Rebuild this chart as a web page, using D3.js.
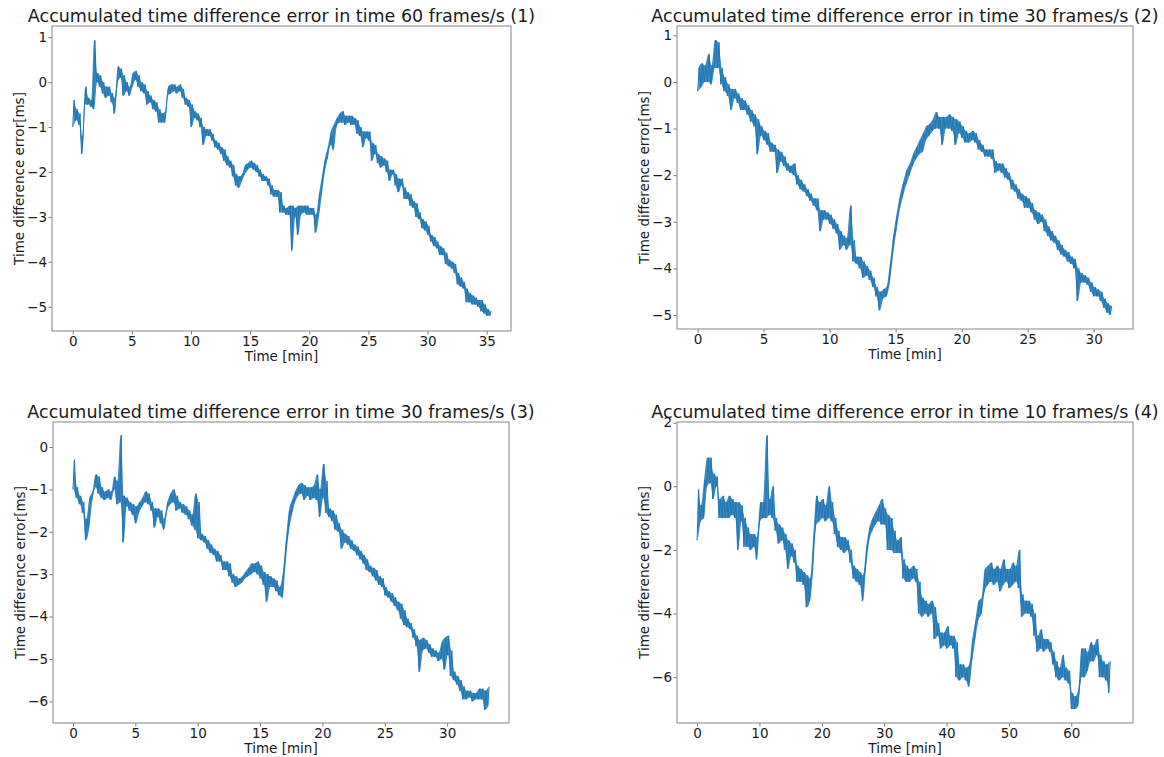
<!DOCTYPE html>
<meta charset="utf-8">
<style>
body{margin:0;background:#fff;}
text{font-family:"DejaVu Sans",sans-serif;fill:#1a1a1a;}
.title{font-size:17.5px;text-anchor:middle;}
.tick text{font-size:13.5px;fill:#1a1a1a;}
.tick line{stroke:#777;}
.domain{display:none;}
.axlabel{font-size:13.5px;text-anchor:middle;}
.frame{fill:none;stroke:#9a9a9a;stroke-width:1.2;}
.band{fill:#1f77b4;fill-opacity:0.85;stroke:none;}
.trace{fill:none;stroke:#1f77b4;stroke-width:1;stroke-linejoin:round;}
</style>
<body>
<script src="https://d3js.org/d3.v7.min.js"></script>
<script>

var titles = ["Accumulated time difference error in time 60 frames/s (1)",
              "Accumulated time difference error in time 30 frames/s (2)",
              "Accumulated time difference error in time 30 frames/s (3)",
              "Accumulated time difference error in time 10 frames/s (4)"];
var xLabel = "Time [min]";
var yLabel = "Time difference error[ms]";

// sampling step [min] of each record; each entry is [low, high] of the noise band in that step
var steps = [0.25, 0.25, 0.25, 0.5];

var err60 = [[-1.0,-0.4],[-0.85,-0.6],[-0.95,-0.7],[-1.6,-1.2],[-0.5,-0.1],[-0.5,-0.35],[-0.55,-0.4],[-0.6,0.93],
 [0.0,0.2],[-0.1,0.15],[-0.25,0.0],[-0.35,-0.1],[-0.3,-0.1],[-0.45,-0.25],[-0.7,-0.35],[0.0,0.35],
 [0.1,0.3],[-0.3,0.15],[-0.2,0.0],[-0.3,-0.1],[-0.1,0.2],[0.05,0.25],[-0.1,0.15],[-0.2,0.0],
 [-0.25,-0.05],[-0.5,-0.2],[-0.45,-0.3],[-0.6,-0.4],[-0.65,-0.45],[-0.9,-0.6],[-0.9,-0.7],[-0.9,-0.65],
 [-0.3,-0.1],[-0.25,-0.05],[-0.2,-0.05],[-0.25,-0.1],[-0.2,-0.05],[-0.35,-0.15],[-0.5,-0.35],[-0.55,-0.4],
 [-1.0,-0.5],[-0.8,-0.65],[-0.85,-0.7],[-1.0,-0.8],[-1.4,-1.0],[-1.2,-1.05],[-1.2,-1.05],[-1.3,-1.15],
 [-1.45,-1.3],[-1.5,-1.35],[-1.6,-1.45],[-1.75,-1.5],[-1.85,-1.65],[-1.9,-1.75],[-2.1,-1.85],[-2.3,-2.05],
 [-2.35,-2.1],[-2.2,-2.05],[-2.05,-1.85],[-1.95,-1.8],[-1.9,-1.75],[-1.95,-1.8],[-2.0,-1.85],[-2.1,-1.95],
 [-2.2,-2.05],[-2.2,-2.1],[-2.3,-2.15],[-2.5,-2.3],[-2.55,-2.4],[-2.55,-2.4],[-2.9,-2.45],[-2.9,-2.75],
 [-2.95,-2.8],[-2.95,-2.75],[-3.75,-2.75],[-3.0,-2.8],[-3.4,-2.75],[-2.95,-2.75],[-2.9,-2.75],[-2.95,-2.75],
 [-2.95,-2.8],[-2.95,-2.8],[-3.35,-2.95],[-3.0,-2.5],[-2.5,-2.1],[-2.0,-1.7],[-1.7,-1.45],[-1.4,-1.1],
 [-1.5,-0.95],[-1.0,-0.8],[-0.9,-0.7],[-0.9,-0.65],[-0.95,-0.75],[-0.9,-0.75],[-0.95,-0.75],[-0.95,-0.8],
 [-1.15,-0.85],[-1.2,-1.0],[-1.45,-1.1],[-1.25,-1.1],[-1.3,-1.1],[-1.75,-1.35],[-1.6,-1.4],[-1.8,-1.6],
 [-1.9,-1.65],[-1.85,-1.7],[-2.0,-1.75],[-2.2,-1.95],[-2.05,-1.95],[-2.3,-2.05],[-2.45,-2.15],[-2.3,-2.15],
 [-2.6,-2.35],[-2.6,-2.45],[-2.75,-2.5],[-2.8,-2.65],[-3.0,-2.7],[-3.05,-2.9],[-3.25,-3.05],[-3.3,-3.1],
 [-3.4,-3.2],[-3.55,-3.4],[-3.65,-3.45],[-3.7,-3.55],[-3.85,-3.65],[-3.85,-3.7],[-4.05,-3.8],[-4.1,-3.95],
 [-4.15,-4.0],[-4.25,-4.05],[-4.5,-4.25],[-4.55,-4.35],[-4.6,-4.45],[-4.9,-4.6],[-4.9,-4.7],[-4.95,-4.75],
 [-4.95,-4.8],[-5.0,-4.85],[-5.1,-4.85],[-5.15,-4.95],[-5.2,-5.05],[-5.2,-5.1]];

var err30a = [[-0.2,0.3],[-0.1,0.4],[0.0,0.35],[0.0,0.6],[-0.05,0.35],[0.3,0.9],[0.3,0.85],[-0.05,0.3],
 [-0.2,0.1],[-0.3,-0.05],[-0.6,-0.15],[-0.35,-0.15],[-0.45,-0.25],[-0.6,-0.35],[-0.6,-0.4],[-0.7,-0.5],
 [-0.85,-0.6],[-0.95,-0.7],[-1.55,-0.8],[-1.15,-0.95],[-1.25,-1.05],[-1.35,-1.1],[-1.5,-1.3],[-1.5,-1.35],
 [-1.95,-1.45],[-1.7,-1.5],[-1.8,-1.6],[-1.9,-1.75],[-1.95,-1.8],[-2.0,-1.75],[-2.2,-2.0],[-2.3,-2.1],
 [-2.35,-2.2],[-2.45,-2.3],[-2.55,-2.4],[-2.65,-2.5],[-2.75,-2.5],[-3.2,-2.75],[-2.95,-2.75],[-2.95,-2.8],
 [-3.05,-2.85],[-3.15,-2.95],[-3.25,-3.05],[-3.6,-3.2],[-3.5,-3.3],[-3.6,-3.35],[-3.5,-2.65],[-3.85,-3.4],
 [-3.9,-3.75],[-4.0,-3.75],[-4.2,-3.85],[-4.15,-3.95],[-4.25,-4.05],[-4.4,-4.2],[-4.6,-4.4],[-4.9,-4.5],
 [-4.65,-4.45],[-4.6,-4.4],[-4.3,-3.9],[-3.7,-3.3],[-3.2,-2.85],[-2.75,-2.45],[-2.45,-2.15],[-2.2,-1.9],
 [-2.0,-1.75],[-1.8,-1.55],[-1.65,-1.4],[-1.55,-1.25],[-1.5,-1.1],[-1.25,-0.95],[-1.15,-0.9],[-1.05,-0.8],
 [-1.0,-0.65],[-1.0,-0.75],[-1.35,-0.75],[-1.0,-0.75],[-1.0,-0.7],[-1.05,-0.75],[-1.35,-0.8],[-1.1,-0.85],
 [-1.2,-0.95],[-1.3,-1.05],[-1.3,-1.1],[-1.25,-1.05],[-1.3,-1.1],[-1.45,-1.25],[-1.5,-1.35],[-1.6,-1.45],
 [-1.6,-1.45],[-1.65,-1.45],[-1.95,-1.7],[-1.9,-1.75],[-1.95,-1.75],[-2.05,-1.85],[-2.1,-1.95],[-2.3,-2.1],
 [-2.35,-2.2],[-2.5,-2.3],[-2.55,-2.4],[-2.7,-2.45],[-2.7,-2.5],[-2.8,-2.6],[-2.95,-2.75],[-3.05,-2.8],
 [-3.0,-2.85],[-3.2,-2.95],[-3.3,-3.1],[-3.4,-3.2],[-3.45,-3.3],[-3.6,-3.4],[-3.7,-3.5],[-3.75,-3.6],
 [-3.85,-3.65],[-3.9,-3.75],[-4.0,-3.8],[-4.7,-4.0],[-4.3,-4.1],[-4.3,-4.15],[-4.35,-4.2],[-4.5,-4.3],
 [-4.6,-4.4],[-4.6,-4.45],[-4.7,-4.5],[-4.85,-4.65],[-4.95,-4.75],[-5.0,-4.8]];

var err30b = [[-1.0,-0.3],[-1.2,-0.95],[-1.35,-1.15],[-1.55,-1.3],[-2.2,-1.7],[-1.9,-1.2],[-1.25,-1.05],[-0.95,-0.65],
 [-1.1,-0.7],[-1.2,-0.95],[-1.25,-1.05],[-1.2,-1.0],[-1.25,-1.05],[-1.0,-0.7],[-1.35,-0.8],[-1.3,0.28],
 [-2.25,-1.15],[-1.4,-1.2],[-1.5,-1.3],[-1.6,-1.35],[-1.8,-1.4],[-1.55,-1.3],[-1.4,-1.2],[-1.3,-1.05],
 [-1.35,-1.1],[-1.5,-1.3],[-1.9,-1.45],[-1.65,-1.45],[-1.8,-1.5],[-1.95,-1.7],[-1.5,-1.3],[-1.35,-1.1],
 [-1.3,-1.0],[-1.5,-1.15],[-1.45,-1.3],[-1.55,-1.35],[-1.6,-1.4],[-1.7,-1.5],[-1.85,-1.6],[-1.95,-1.1],
 [-2.15,-1.3],[-2.2,-2.05],[-2.25,-2.1],[-2.4,-2.2],[-2.5,-2.3],[-2.55,-2.4],[-2.7,-2.45],[-2.7,-2.55],
 [-2.9,-2.7],[-2.9,-2.7],[-3.05,-2.75],[-3.2,-3.0],[-3.3,-3.05],[-3.25,-3.1],[-3.2,-3.05],[-3.1,-2.95],
 [-3.05,-2.85],[-3.0,-2.75],[-2.95,-2.75],[-3.0,-2.7],[-3.1,-2.8],[-3.25,-2.95],[-3.65,-3.0],[-3.3,-3.05],
 [-3.3,-3.1],[-3.4,-3.15],[-3.5,-3.3],[-3.55,-3.0],[-2.7,-2.2],[-2.0,-1.5],[-1.6,-1.25],[-1.3,-1.05],
 [-1.15,-0.9],[-1.1,-0.85],[-1.25,-0.9],[-1.15,-0.95],[-1.25,-0.95],[-1.2,-0.9],[-1.25,-0.65],[-1.65,-1.0],
 [-1.2,-0.4],[-1.55,-0.8],[-1.65,-1.45],[-1.75,-1.5],[-1.95,-1.6],[-2.0,-1.8],[-2.4,-1.95],[-2.25,-2.05],
 [-2.3,-2.1],[-2.4,-2.2],[-2.45,-2.3],[-2.55,-2.35],[-2.65,-2.45],[-2.75,-2.55],[-2.9,-2.65],[-2.95,-2.8],
 [-3.05,-2.85],[-3.15,-2.9],[-3.25,-3.05],[-3.3,-3.1],[-3.5,-3.3],[-3.55,-3.4],[-3.65,-3.45],[-3.75,-3.55],
 [-3.85,-3.65],[-4.05,-3.7],[-4.2,-3.85],[-4.25,-4.05],[-4.3,-4.15],[-4.5,-4.3],[-4.7,-4.45],[-5.3,-4.55],
 [-4.8,-4.5],[-4.75,-4.55],[-4.85,-4.65],[-4.95,-4.75],[-4.95,-4.8],[-5.05,-4.85],[-5.0,-4.6],[-5.25,-4.5],
 [-4.9,-4.45],[-5.4,-4.8],[-5.5,-5.3],[-5.6,-5.4],[-5.75,-5.5],[-5.95,-5.65],[-5.95,-5.75],[-5.9,-5.75],
 [-6.0,-5.8],[-5.95,-5.8],[-5.95,-5.7],[-5.95,-5.7],[-6.2,-5.75],[-6.1,-5.65]];

var err10 = [[-1.7,-0.1],[-1.1,-0.6],[-1.0,0.2],[0.0,0.9],[0.1,0.9],[-0.4,0.4],[0.0,0.3],[-1.0,-0.4],
 [-1.0,-0.3],[-1.0,-0.5],[-1.0,-0.3],[-0.9,-0.4],[-1.0,-0.5],[-2.0,-0.5],[-1.1,-0.6],[-1.9,-1.0],
 [-1.9,-1.3],[-2.0,-1.5],[-1.9,-1.5],[-2.3,-1.6],[-1.1,-0.5],[-1.0,-0.5],[-1.0,1.6],[-0.9,-0.4],
 [-1.0,0.0],[-1.4,-1.0],[-1.8,-1.2],[-1.7,-1.3],[-2.0,-1.5],[-2.6,-1.7],[-2.2,-1.8],[-2.4,-2.0],
 [-3.0,-2.5],[-3.0,-2.6],[-3.1,-2.7],[-3.8,-2.8],[-3.6,-2.9],[-2.6,-1.6],[-1.2,-0.3],[-1.1,-0.5],
 [-1.0,-0.4],[-1.1,-0.6],[-1.0,0.0],[-1.1,-0.5],[-1.5,-1.0],[-1.9,-1.4],[-2.0,-1.6],[-2.1,-1.6],
 [-2.0,-1.7],[-2.4,-2.0],[-2.9,-2.5],[-3.0,-2.6],[-3.1,-2.7],[-3.6,-2.8],[-2.5,-1.9],[-1.7,-1.3],
 [-1.4,-1.0],[-1.2,-0.8],[-1.1,-0.6],[-1.2,-0.4],[-1.2,-0.7],[-2.0,-0.9],[-2.0,-1.0],[-2.1,-1.4],
 [-2.1,-1.7],[-2.1,-1.6],[-2.9,-2.3],[-3.0,-2.5],[-3.0,-2.6],[-2.9,-2.5],[-3.0,-2.6],[-4.0,-3.0],
 [-4.1,-3.5],[-4.0,-3.6],[-4.1,-3.7],[-4.0,-3.6],[-4.8,-3.8],[-4.7,-4.3],[-5.1,-4.6],[-5.0,-4.6],
 [-5.1,-4.4],[-5.0,-4.7],[-5.1,-4.7],[-6.0,-4.9],[-6.1,-5.6],[-6.0,-5.6],[-6.1,-5.7],[-6.3,-5.6],
 [-5.5,-4.8],[-4.8,-4.2],[-4.2,-3.6],[-4.0,-3.5],[-3.3,-2.6],[-3.1,-2.5],[-3.0,-2.4],[-3.1,-2.6],
 [-3.0,-2.5],[-3.3,-2.6],[-3.1,-2.3],[-3.0,-2.6],[-3.2,-2.6],[-3.1,-2.4],[-3.0,-2.5],[-3.2,-2.0],
 [-4.1,-3.4],[-4.0,-3.6],[-4.0,-3.6],[-4.1,-3.7],[-4.7,-4.0],[-5.2,-4.7],[-5.1,-4.5],[-5.2,-4.8],
 [-5.1,-4.8],[-5.2,-4.9],[-5.6,-5.2],[-6.0,-5.5],[-6.1,-5.7],[-6.0,-5.3],[-6.1,-5.7],[-6.2,-5.8],
 [-7.0,-6.5],[-7.0,-6.6],[-6.9,-6.4],[-6.0,-5.1],[-6.0,-5.1],[-5.8,-5.2],[-5.5,-4.9],[-5.5,-5.0],
 [-5.3,-4.8],[-6.0,-5.3],[-6.0,-5.5],[-6.1,-5.6],[-6.5,-5.5]];

// axis limits and tick values
var xLims = [[-1.75,37.05],[-1.56,32.98],[-1.6,34.96],[-3.22,69.9]];
var yLims = [[-5.54,1.25],[-5.30,1.20],[-6.51,0.59],[-7.44,2.02]];
var xTicks = [[0,5,10,15,20,25,30,35],[0,5,10,15,20,25,30],[0,5,10,15,20,25,30],[0,10,20,30,40,50,60]];
var yTicks = [[-5,-4,-3,-2,-1,0,1],[-5,-4,-3,-2,-1,0,1],[-6,-5,-4,-3,-2,-1,0],[-6,-4,-2,0,2]];

var series = [err60, err30a, err30b, err10];

// plot frames: left, top, right, bottom
var boxes = [[52,26,511,331],[677,26,1133,329],[53,422,509,723],[677,422,1133,723]];

var svg = d3.select("body").append("svg").attr("width", 1164).attr("height", 757);

var fmt = d => d < 0 ? "\u2212" + (-d) : "" + d;

series.forEach(function(data, i){
	var b = boxes[i];
	var x = d3.scaleLinear().domain(xLims[i]).range([b[0], b[2]]);
	var y = d3.scaleLinear().domain(yLims[i]).range([b[3], b[1]]);
	var dt = steps[i];

	// zig-zag through low/high of every step so the noise band is filled
	var pts = [];
	data.forEach(function(d, k){
		pts.push([k*dt, d[0]]);
		pts.push([k*dt + dt/2, d[1]]);
	});

	var g = svg.append("g");

	g.append("g").attr("transform","translate(0,"+b[3]+")")
		.call(d3.axisBottom(x).tickValues(xTicks[i]).tickFormat(fmt).tickSize(3.5).tickPadding(1.5));
	g.append("g").attr("transform","translate("+b[0]+",0)")
		.call(d3.axisLeft(y).tickValues(yTicks[i]).tickFormat(fmt).tickSize(3.5).tickPadding(1.5));

	g.append("path").attr("class","band")
		.attr("d", d3.area().x((d,k)=>x(k*dt + dt/4)).y0(d=>y(d[0])).y1(d=>y(d[1])).curve(d3.curveMonotoneX)(data));

	g.append("path").attr("class","trace")
		.attr("d", d3.line().x(d=>x(d[0])).y(d=>y(d[1]))(pts));

	g.append("rect").attr("class","frame")
		.attr("x", b[0]).attr("y", b[1]).attr("width", b[2]-b[0]).attr("height", b[3]-b[1]);

	g.append("text").attr("class","title")
		.attr("x", (b[0]+b[2])/2).attr("y", b[1]-4)
		.text(titles[i]);

	g.append("text").attr("class","axlabel")
		.attr("x", (b[0]+b[2])/2).attr("y", b[3]+29.5)
		.text(xLabel);

	g.append("text").attr("class","axlabel")
		.attr("transform","translate("+(b[0]-28.5)+","+((b[1]+b[3])/2)+") rotate(-90)")
		.text(yLabel);
});

</script>
</body>
